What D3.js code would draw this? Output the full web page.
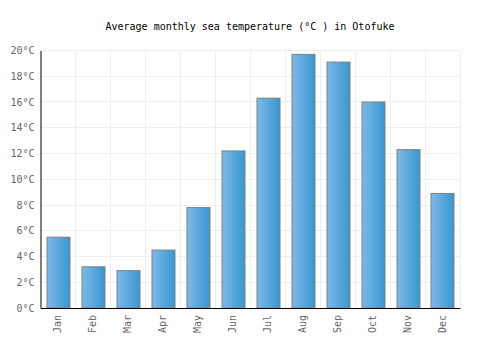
<!DOCTYPE html>
<html>
<head>
<meta charset="utf-8">
<script src="https://cdn.jsdelivr.net/npm/d3@7"></script>
<style>
  body { margin: 0; background: #fff; }
  svg text { font-family: "DejaVu Sans Mono", monospace; }
</style>
</head>
<body>
<svg id="chart" width="500" height="350"></svg>
<script>
// Average monthly sea temperature in Otofuke
const months = ['Jan', 'Feb', 'Mar', 'Apr', 'May', 'Jun', 'Jul', 'Aug', 'Sep', 'Oct', 'Nov', 'Dec'];
const temps = [5.5, 3.2, 2.9, 4.5, 7.8, 12.2, 16.3, 19.7, 19.1, 16.0, 12.3, 8.9];
const yTicks = [0, 2, 4, 6, 8, 10, 12, 14, 16, 18, 20];

(function() {
    const svg = d3.select('#chart');
    const margin = { top: 50.5, right: 40, bottom: 42, left: 40.5 };
    const plotWidth = 500 - margin.left - margin.right;
    const plotHeight = 350 - margin.top - margin.bottom;

    const defs = svg.append('defs');
    const grad = defs.append('linearGradient')
        .attr('id', 'barGrad')
        .attr('x1', '0%').attr('x2', '100%')
        .attr('y1', '0%').attr('y2', '0%');
    grad.append('stop').attr('offset', '0%').attr('stop-color', '#7db9ea');
    grad.append('stop').attr('offset', '100%').attr('stop-color', '#3797cf');

    svg.append('text')
        .attr('x', 250)
        .attr('y', 30)
        .attr('text-anchor', 'middle')
        .attr('font-size', '10px')
        .attr('fill', '#000')
        .text('Average monthly sea temperature (°C ) in Otofuke');

    const g = svg.append('g')
        .attr('transform', `translate(${margin.left}, ${margin.top})`);

    const x = d3.scaleBand()
        .domain(months)
        .range([0, plotWidth])
        .paddingInner(0.34)
        .paddingOuter(0.17);

    const y = d3.scaleLinear()
        .domain([0, 20])
        .range([plotHeight, 0]);

    // grid
    const step = plotWidth / months.length;
    g.append('g')
        .selectAll('line')
        .data(d3.range(1, months.length + 1))
        .enter().append('line')
        .attr('x1', d => Math.round(d * step))
        .attr('x2', d => Math.round(d * step))
        .attr('y1', 0)
        .attr('y2', plotHeight)
        .attr('stroke', '#eeeeee');

    g.append('g')
        .selectAll('line')
        .data(yTicks.slice(1))
        .enter().append('line')
        .attr('x1', 0)
        .attr('x2', plotWidth)
        .attr('y1', d => Math.round(y(d)))
        .attr('y2', d => Math.round(y(d)))
        .attr('stroke', '#eeeeee');

    // bars
    g.selectAll('.bar')
        .data(temps)
        .enter().append('rect')
        .attr('class', 'bar')
        .attr('x', (d, i) => Math.round(x(months[i])) + 0.5)
        .attr('width', Math.round(x.bandwidth()))
        .attr('y', d => y(d))
        .attr('height', d => plotHeight - y(d))
        .attr('fill', 'url(#barGrad)')
        .attr('stroke', '#808080')
        .attr('stroke-width', 1);

    // axes
    const yAxis = g.append('g')
        .call(d3.axisLeft(y).tickValues(yTicks).tickSize(0).tickPadding(6)
            .tickFormat(d => d + '°C'));
    yAxis.select('.domain').attr('stroke', '#000');
    yAxis.selectAll('text')
        .attr('font-size', '10px')
        .attr('fill', '#666')
        .attr('font-family', '"DejaVu Sans Mono", monospace');

    const xAxis = g.append('g')
        .attr('transform', `translate(0, ${plotHeight})`)
        .call(d3.axisBottom(x).tickSize(0).tickPadding(0));
    xAxis.select('.domain').attr('stroke', '#000');
    xAxis.selectAll('text')
        .attr('font-size', '10px')
        .attr('fill', '#666')
        .attr('font-family', '"DejaVu Sans Mono", monospace')
        .attr('text-anchor', 'end')
        .attr('dy', '0.35em')
        .attr('transform', 'translate(0, 7) rotate(-90)');
})();
</script>
</body>
</html>
